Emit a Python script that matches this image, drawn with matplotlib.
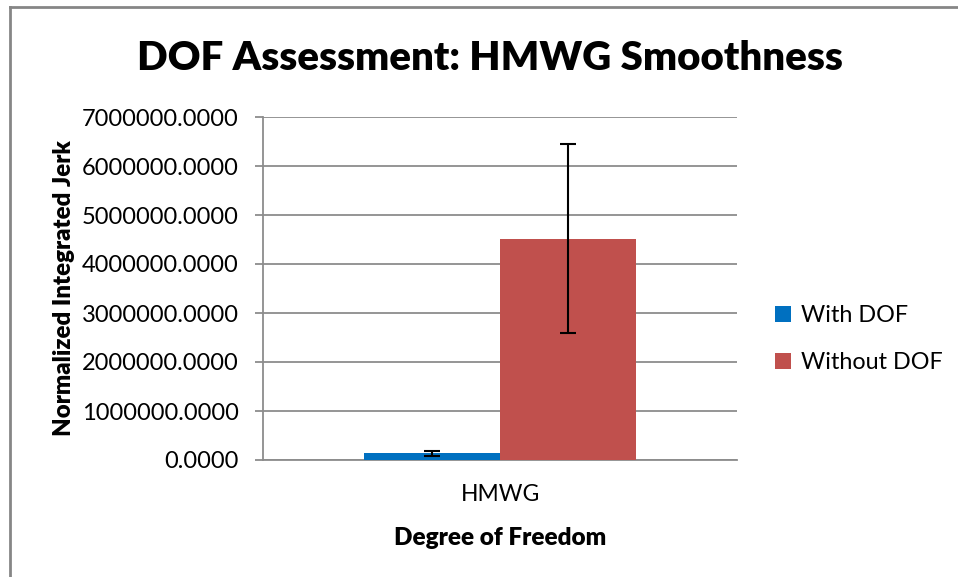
import numpy as np
import matplotlib.pyplot as plt
from matplotlib.lines import Line2D

plt.rcParams["font.family"] = ["Lato", "DejaVu Sans"]

categories = ["HMWG"]
series_names = ["With DOF", "Without DOF"]
with_dof = [140000]
with_dof_err = [50000]
without_dof = [4520000]
without_dof_err = [1920000]
y_ticks = [0, 1000000, 2000000, 3000000, 4000000, 5000000, 6000000, 7000000]

blue = "#0070C0"
red = "#C0504D"
grid_col = "#8C8C8C"

fig = plt.figure(figsize=(9.58, 5.77), dpi=100)
ax = fig.add_axes([263 / 958, 117 / 577, 474 / 958, 343 / 577])

x = np.arange(len(categories))
w = 0.287
ax.bar(x - w / 2, with_dof, w, color=blue, label=series_names[0], zorder=3,
       yerr=with_dof_err, error_kw=dict(ecolor="black", elinewidth=1.5, capsize=6, capthick=1.5))
ax.bar(x + w / 2, without_dof, w, color=red, label=series_names[1], zorder=3,
       yerr=without_dof_err, error_kw=dict(ecolor="black", elinewidth=1.5, capsize=6, capthick=1.5))

ax.set_xlim(-0.5, 0.5)
ax.set_ylim(0, 7000000)
ax.set_yticks(y_ticks)
ax.set_yticklabels([f"{v:.4f}" for v in y_ticks], fontsize=17)
ax.set_xticks(x)
ax.set_xticklabels(categories, fontsize=16.5)
ax.tick_params(axis="x", length=0, pad=17)
ax.tick_params(axis="y", length=6, width=1.3, color=grid_col, pad=11.5)
ax.yaxis.grid(True, color=grid_col, linewidth=1.3, zorder=0)
for s in ["top", "right"]:
    ax.spines[s].set_visible(False)
ax.spines["left"].set_color(grid_col)
ax.spines["bottom"].set_color(grid_col)
ax.spines["left"].set_linewidth(1.3)
ax.spines["bottom"].set_linewidth(1.3)

ax.set_xlabel("Degree of Freedom", fontsize=17.5, fontweight="heavy", labelpad=16)
ax.set_ylabel("Normalized Integrated Jerk", fontsize=17.3, fontweight="heavy", labelpad=5)
fig.text(490 / 958, 1 - 58 / 577, "DOF Assessment: HMWG Smoothness", fontsize=29,
         fontweight="heavy", ha="center", va="center")

ax.legend(loc="center left", bbox_to_anchor=(1.036, 0.352), frameon=False, fontsize=16.8,
          handlelength=0.7, handleheight=0.7, handletextpad=0.4, labelspacing=1.1)

# outer chart border (only top and left edges show)
fig.add_artist(Line2D([10 / 958, 10 / 958], [0, 1 - 7 / 577], color="#868686", lw=2,
                      transform=fig.transFigure))
fig.add_artist(Line2D([10 / 958, 1], [1 - 7 / 577, 1 - 7 / 577], color="#868686", lw=2,
                      transform=fig.transFigure))

fig.savefig("out.png", dpi=100)
